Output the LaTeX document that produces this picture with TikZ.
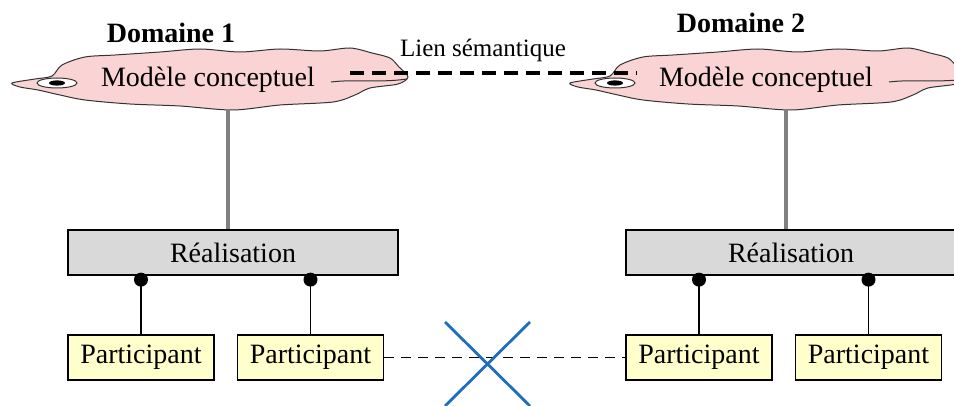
\documentclass[tikz,border=0pt]{standalone}
\usepackage{fontspec}
\setmainfont{Liberation Serif}
\usepackage{tikz}
\definecolor{rose}{RGB}{250,212,212}
\definecolor{grisboite}{RGB}{217,217,217}
\definecolor{jaunepale}{RGB}{255,255,204}
\definecolor{bleucroix}{RGB}{31,110,190}
\definecolor{gristige}{RGB}{128,128,128}

\begin{document}
\begin{tikzpicture}[x=0.5pt, y=-0.5pt,
  texte/.style={font=\fontsize{14}{16}\selectfont, inner sep=0pt},
  titre/.style={font=\fontsize{14}{16}\selectfont\bfseries, inner sep=0pt},
  realisation/.style={draw, line width=0.65pt, fill=grisboite, minimum width=165pt, minimum height=22.5pt, inner sep=0pt, font=\fontsize{14}{16}\selectfont},
  participant/.style={draw, line width=0.65pt, fill=jaunepale, minimum width=73pt, minimum height=22.5pt, inner sep=0pt, font=\fontsize{14}{16}\selectfont},
  point/.style={circle, fill=black, inner sep=0pt, minimum size=7pt},
  tige/.style={draw=gristige, line width=2pt},
  fil/.style={draw, line width=0.6pt},
  lien/.style={draw, line width=1.7pt, dash pattern=on 7pt off 4pt},
  lienfin/.style={draw, line width=0.8pt, dash pattern=on 5pt off 3.5pt},
  croix/.style={draw=bleucroix, line width=1.4pt},
  nuage/.pic={
    \path[fill=rose, draw=black!80, line width=0.5pt] plot[smooth cycle, tension=0.5] coordinates {
      (12,83) (35,79) (52,76) (62,65) (85,57) (115,55) (160,52) (200,49)
      (240,52) (280,49) (320,51) (350,48) (372,53) (390,58) (399,67) (408,77)
      (398,84) (370,88) (355,95) (333,102) (280,105) (233,110) (180,106)
      (130,104) (85,100) (60,95) (38,90) (20,87)};
    \draw[black!80, line width=0.5pt] (331,82) .. controls (355,79) and (380,83) .. (407,79);
    \draw[black!80, line width=0.5pt, fill=white] (57,83) ellipse (10pt and 2.5pt);
    \fill (57,83) ellipse (4pt and 1.3pt);
    \coordinate (-bas) at (228,109);
    \coordinate (-est) at (350,73);
    \coordinate (-ouest) at (79,73);
  }]
\useasboundingbox (0,0) rectangle (954,406);
\clip (0,0) rectangle (954,406);

% Nuages
\pic (n1) at (0,0) {nuage};
\pic (n2) at (558,0) {nuage};
\node[texte] (m1) at (208,80) {Modèle conceptuel};
\node[texte] (m2) at (766,80) {Modèle conceptuel};
\node[titre] (d1) at (171,33) {Domaine 1};
\node[titre] (d2) at (741,23) {Domaine 2};
\node[font=\fontsize{12.5}{15}\selectfont, inner sep=0pt] (ls) at (483,50) {Lien sémantique};

% Boites
\node[realisation] (r1) at (233,252.5) {Réalisation};
\node[realisation] (r2) at (791,252.5) {Réalisation};
\node[participant] (p1) at (141,357.5) {Participant};
\node[participant] (p2) at (310.5,357.5) {Participant};
\node[participant] (p3) at (699,357.5) {Participant};
\node[participant] (p4) at (868.5,357.5) {Participant};

% Liens
\draw[lien] (n1-est) -- (n2-ouest);
\draw[tige] (n1-bas) -- (n1-bas |- r1.north);
\draw[tige] (n2-bas) -- (n2-bas |- r2.north);
\draw[fil] (p1.north) -- ([yshift=-2pt]p1.north |- r1.south) node[point] {};
\draw[fil] (p2.north) -- ([yshift=-2pt]p2.north |- r1.south) node[point] {};
\draw[fil] (p3.north) -- ([yshift=-2pt]p3.north |- r2.south) node[point] {};
\draw[fil] (p4.north) -- ([yshift=-2pt]p4.north |- r2.south) node[point] {};
\draw[lienfin] (p2.east) -- (p3.west);

% Croix
\draw[croix] (445,322) -- (530,406) (530,322) -- (445,406);
\end{tikzpicture}
\end{document}
